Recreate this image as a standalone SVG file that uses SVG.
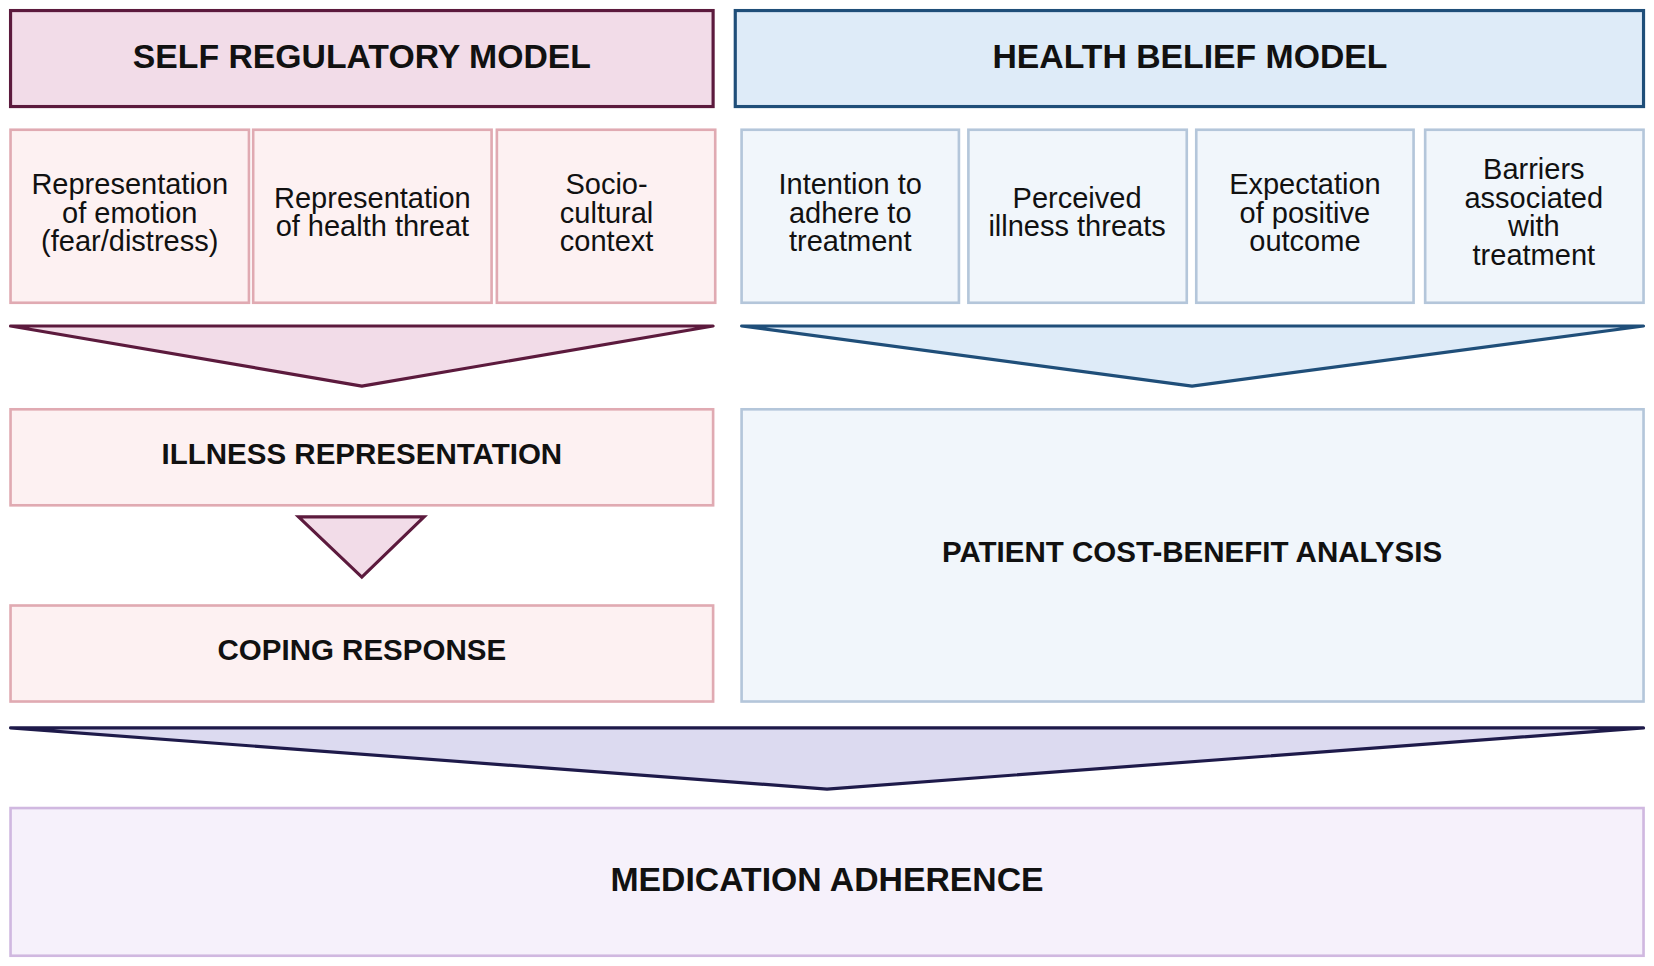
<svg xmlns="http://www.w3.org/2000/svg" width="1654" height="966" viewBox="0 0 1654 966">
<style>
text{font-family:"Liberation Sans",Arial,sans-serif;fill:#111;text-anchor:middle}
.h{font-weight:bold;font-size:32px}
.b{font-weight:bold;font-size:28px}
.t{font-size:27.5px}
.ph{fill:#f2dce8;stroke:#5c1a3d;stroke-width:3}
.bh{fill:#deebf8;stroke:#1f4e79;stroke-width:3}
.pb{fill:#fdf1f2;stroke:#e0aab2;stroke-width:2.5}
.bb{fill:#f1f6fb;stroke:#b4c6da;stroke-width:2.5}
</style>
<rect width="1654" height="966" fill="#fff"/>
<g transform="scale(1.0549)">
<g id="srm"><rect class="ph" x="10" y="10" width="666" height="91"/><text class="h" x="343" y="64">SELF REGULATORY MODEL</text></g>
<g id="hbm"><rect class="bh" x="697" y="10" width="861" height="91"/><text class="h" x="1128" y="64">HEALTH BELIEF MODEL</text></g>
<g id="s1"><rect class="pb" x="10" y="123" width="226" height="164"/><text class="t" x="123" y="184">Representation<tspan x="123" dy="27">of emotion</tspan><tspan x="123" dy="27">(fear/distress)</tspan></text></g>
<g id="s2"><rect class="pb" x="240" y="123" width="226" height="164"/><text class="t" x="353" y="197">Representation<tspan x="353" dy="27">of health threat</tspan></text></g>
<g id="s3"><rect class="pb" x="471" y="123" width="207" height="164"/><text class="t" x="575" y="184">Socio-<tspan x="575" dy="27">cultural</tspan><tspan x="575" dy="27">context</tspan></text></g>
<g id="h1"><rect class="bb" x="703" y="123" width="206" height="164"/><text class="t" x="806" y="184">Intention to<tspan x="806" dy="27">adhere to</tspan><tspan x="806" dy="27">treatment</tspan></text></g>
<g id="h2"><rect class="bb" x="918" y="123" width="207" height="164"/><text class="t" x="1021" y="197">Perceived<tspan x="1021" dy="27">illness threats</tspan></text></g>
<g id="h3"><rect class="bb" x="1134" y="123" width="206" height="164"/><text class="t" x="1237" y="184">Expectation<tspan x="1237" dy="27">of positive</tspan><tspan x="1237" dy="27">outcome</tspan></text></g>
<g id="h4"><rect class="bb" x="1351" y="123" width="207" height="164"/><text class="t" x="1454" y="170">Barriers<tspan x="1454" dy="27">associated</tspan><tspan x="1454" dy="27">with</tspan><tspan x="1454" dy="27">treatment</tspan></text></g>
<g id="connectors">
<polygon class="ph" points="10,309 676,309 343,366" stroke-linejoin="round"/>
<polygon class="bh" points="703,309 1558,309 1130,366" stroke-linejoin="round"/>
<polygon class="ph" points="283,490 402,490 343,547" stroke-width="2.5"/>
<polygon points="10,690 1558,690 784,748" fill="#dcdaf0" stroke="#1e1a4a" stroke-width="3" stroke-linejoin="round"/>
</g>
<g id="ir"><rect class="pb" x="10" y="388" width="666" height="91"/><text class="b" x="343" y="440">ILLNESS REPRESENTATION</text></g>
<g id="cr"><rect class="pb" x="10" y="574" width="666" height="91"/><text class="b" x="343" y="626">COPING RESPONSE</text></g>
<g id="pcba"><rect class="bb" x="703" y="388" width="855" height="277"/><text class="b" x="1130" y="533">PATIENT COST-BENEFIT ANALYSIS</text></g>
<g id="ma"><rect x="10" y="766" width="1548" height="140" fill="#f6f1fb" stroke="#d0b8e0" stroke-width="2.5"/><text class="h" x="784" y="845">MEDICATION ADHERENCE</text></g>
</g>
</svg>
